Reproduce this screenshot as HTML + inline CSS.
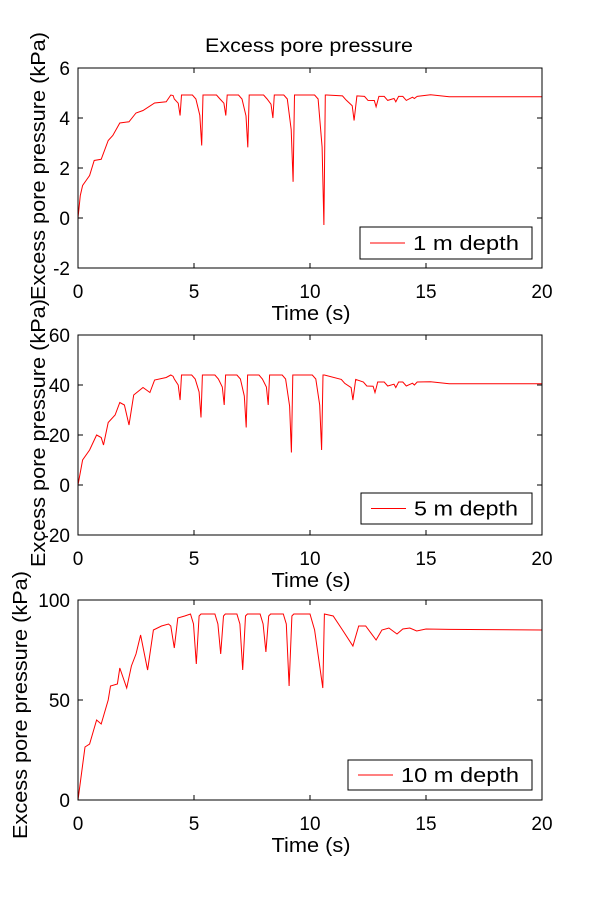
<!DOCTYPE html>
<html><head><meta charset="utf-8"><style>
body{margin:0;background:#fff}
svg{display:block;font-family:"Liberation Sans",Arial,sans-serif}
</style></head><body>
<svg id="s" width="600" height="900" xmlns="http://www.w3.org/2000/svg">
<rect width="600" height="900" fill="#fff"/>
<text x="309" y="52" font-size="19" text-anchor="middle" textLength="208" lengthAdjust="spacingAndGlyphs">Excess pore pressure</text>
<g id="g"></g>
</svg>
<script>
const X0=78,X1=542;
const plots=[
 {top:68,bot:268,ymin:-2,ymax:6,ticks:[-2,0,2,4,6],leg:[360,227,172,32],lab:"1 m depth",tl:106,
  pts:[[0,0],[0.1,0.9],[0.2,1.3],[0.35,1.5],[0.5,1.7],[0.7,2.3],[1.0,2.35],[1.3,3.1],[1.5,3.3],[1.8,3.8],[2.2,3.85],[2.5,4.2],[2.8,4.3],[3.3,4.6],[3.8,4.65],[4.1,4.9]],
  top2:4.92,dips:[[4.4,4.1],[5.33,2.9],[6.37,4.1],[7.32,2.83],[8.4,4.0],[9.27,1.45],[10.6,-0.28],[11.9,3.9],[12.85,4.45],[13.7,4.65],[14.5,4.78]],end:4.85},
 {top:335,bot:535,ymin:-20,ymax:60,ticks:[-20,0,20,40,60],leg:[361,493,171,31],lab:"5 m depth",tl:104,
  pts:[[0,0],[0.2,10],[0.5,14],[0.8,20],[1.0,19],[1.1,16],[1.3,25],[1.6,28],[1.8,33],[2.0,32],[2.2,24],[2.4,36],[2.8,39],[3.1,37],[3.3,42],[3.8,43],[4.1,43.5]],
  top2:44,dips:[[4.4,34],[5.3,27],[6.3,32],[7.25,23],[8.2,32],[9.2,13],[10.5,14],[11.85,34],[12.8,37],[13.7,39],[14.5,40]],end:40.5},
 {top:600,bot:800,ymin:0,ymax:100,ticks:[0,50,100],leg:[348,760,184,30],lab:"10 m depth",tl:118,
  pts:[[0,0],[0.3,26.5],[0.5,28],[0.8,40],[1.0,38],[1.3,50],[1.4,57],[1.7,58],[1.8,66],[2.1,56],[2.3,67],[2.5,73],[2.7,82.5],[3.0,65],[3.25,85],[3.6,87],[3.9,88],[4.0,87],[4.15,76],[4.3,91],[4.6,92]],
  top2:93,dips:[[5.1,68],[6.15,73],[7.1,65],[8.1,74],[9.1,57]],end:85}
];
let h='';
function sx(t){return X0+(X1-X0)*t/20}
plots.forEach((p,i)=>{
 const sy=v=>p.bot-(v-p.ymin)/(p.ymax-p.ymin)*(p.bot-p.top);
 let pts=p.pts.slice();
 if(i<2){
  p.dips.forEach((d,k)=>{
   const c=d[0],m=d[1];
   let base=k>=7?(p.top2+(p.end-p.top2)*0.5):p.top2;
   if(k>=8)base=p.end+ (p.top2-p.end)*0.2;
   const w=k>=7?0.35:0.25;
   pts.push([c-w-0.15,base],[c-w,base-0.02*(p.ymax-p.ymin)],[c-0.08,(base+m)/2+(base-m)*0.1],[c,m],[c+0.06,base-(k>=7?(base-m)*0.5:0)],[c+0.12,base]);
  });
 } else {
  p.dips.forEach(d=>{const c=d[0],m=d[1];pts.push([c-0.25,93],[c-0.12,88],[c,m],[c+0.12,92],[c+0.2,93]);});
  pts.push([10.0,93],[10.2,85],[10.55,56],[10.62,93],[11.0,92],[11.4,85],[11.85,77],[12.1,87],[12.4,87],[12.85,80],[13.1,85],[13.4,86],[13.75,83],[14.0,85.5],[14.3,86],[14.6,84.5],[15.0,85.5],[16,85.3],[20,85]);
 }
 if(i<2)pts.push([15.2,p.end+0.01*(p.ymax-p.ymin)],[16,p.end],[20,p.end]);
 pts.sort((a,b)=>a[0]-b[0]);
 h+=`<polyline fill="none" stroke="#f00" stroke-width="1" points="${pts.map(q=>sx(q[0]).toFixed(1)+','+sy(q[1]).toFixed(1)).join(' ')}"/>`;
 h+=`<rect x="${X0}" y="${p.top}" width="${X1-X0}" height="${p.bot-p.top}" fill="none" stroke="#000"/>`;
 [0,5,10,15,20].forEach(t=>{const x=sx(t);h+=`<line x1="${x}" y1="${p.bot}" x2="${x}" y2="${p.bot-5}" stroke="#000"/><line x1="${x}" y1="${p.top}" x2="${x}" y2="${p.top+5}" stroke="#000"/><text x="${x}" y="${p.bot+30}" font-size="19" text-anchor="middle">${t}</text>`;});
 p.ticks.forEach(v=>{const y=sy(v);h+=`<line x1="${X0}" y1="${y}" x2="${X0+5}" y2="${y}" stroke="#000"/><line x1="${X1}" y1="${y}" x2="${X1-5}" y2="${y}" stroke="#000"/><text x="${X0-8}" y="${y+7}" font-size="19" text-anchor="end">${v}</text>`;});
 h+=`<text x="${(X0+X1)/2+1}" y="${p.bot+52}" font-size="20" text-anchor="middle" textLength="79" lengthAdjust="spacingAndGlyphs">Time (s)</text>`;
 h+=`<text transform="translate(${i==2?27:45},${(p.top+p.bot)/2+(i==2?5:-2)}) rotate(-90)" font-size="20" text-anchor="middle" textLength="268" lengthAdjust="spacingAndGlyphs">Excess pore pressure (kPa)</text>`;
 const L=p.leg;
 h+=`<rect x="${L[0]}" y="${L[1]}" width="${L[2]}" height="${L[3]}" fill="#fff" stroke="#000"/><line x1="${L[0]+10}" y1="${L[1]+L[3]/2}" x2="${L[0]+45}" y2="${L[1]+L[3]/2}" stroke="#f00"/><text x="${L[0]+53}" y="${L[1]+L[3]/2+7}" font-size="20" textLength="${p.tl}" lengthAdjust="spacingAndGlyphs">${p.lab}</text>`;
});
document.getElementById('g').innerHTML=h;
</script>
</body></html>
